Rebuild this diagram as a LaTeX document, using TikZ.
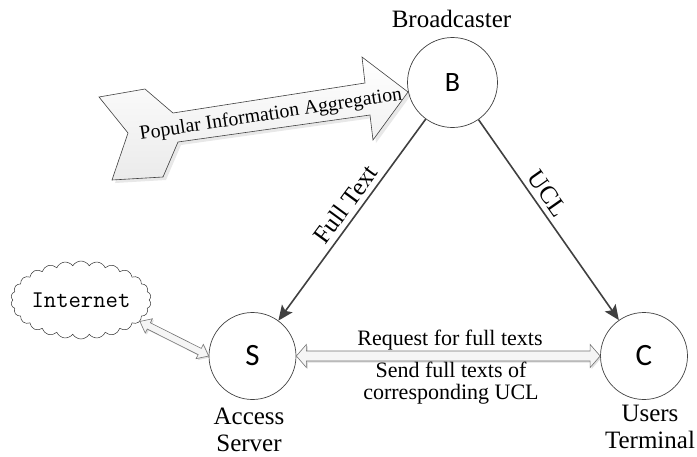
\documentclass[tikz,border=0pt]{standalone}
\usepackage{fontspec}
\setmainfont{Liberation Serif}
\newfontfamily\calfont{Carlito}
\usetikzlibrary{calc,arrows.meta,shapes.symbols,shadows}

\newcommand\hdarrow[6]{% style, a, b, half shaft, half head, head length
  \draw[#1] (#2)
    -- ($ ($(#2)!#6!(#3)$)!#5!90:(#3) $)
    -- ($ ($(#2)!#6!(#3)$)!#4!90:(#3) $)
    -- ($ ($(#3)!#6!(#2)$)!#4!-90:(#2) $)
    -- ($ ($(#3)!#6!(#2)$)!#5!-90:(#2) $)
    -- (#3)
    -- ($ ($(#3)!#6!(#2)$)!#5!90:(#2) $)
    -- ($ ($(#3)!#6!(#2)$)!#4!90:(#2) $)
    -- ($ ($(#2)!#6!(#3)$)!#4!-90:(#3) $)
    -- ($ ($(#2)!#6!(#3)$)!#5!-90:(#3) $)
    -- cycle;}

\begin{document}
\begin{tikzpicture}[x=1pt,y=-1pt,
  circ/.style={circle, draw=black!75, line width=0.7pt, minimum size=87pt, inner sep=0pt,
               font=\calfont\fontsize{31}{31}\selectfont},
  lbl/.style={font=\fontsize{25}{27}\selectfont, align=center, inner sep=0pt},
  conn/.style={draw=black!75, line width=1.6pt, -{Stealth[length=15pt,width=13pt,inset=3pt]}},
  edgelbl/.style={font=\fontsize{25}{25}\selectfont, sloped, above, inner sep=5pt},
  midlbl/.style={font=\fontsize{22}{22}\selectfont, align=center, inner sep=0pt},
  hollow/.style={draw=black!55, line width=0.6pt, fill=black!4,
                 drop shadow={shadow xshift=1.5pt, shadow yshift=-1.5pt, opacity=0.25}},
  bigarrow/.style={draw=black!75, line width=0.6pt, top color=white, bottom color=black!8,
                 drop shadow={shadow xshift=3pt, shadow yshift=-3pt, opacity=0.18}},
]
\useasboundingbox (0,0) rectangle (697,456);

% big arrow
\draw[bigarrow] (99,97) -- (145,89) -- (173,113) -- (365,83) -- (362,57) -- (408,92)
  -- (373,140) -- (370,115) -- (178,142) -- (163,177) -- (112,180) -- (128,133) -- cycle;
\node[font=\fontsize{19.8}{19.8}\selectfont, rotate=8.7, inner sep=0pt] (pia) at (271,115) {Popular Information Aggregation};

% nodes
\node[circ, minimum size=90pt, font=\calfont\fontsize{28}{28}\selectfont] (B) at (452.5,82.5) {B};
\node[circ] (S) at (252.5,356) {S};
\node[circ] (C) at (644,356) {C};
\node[lbl] (bl) at (451.5,18.5) {Broadcaster};
\node[lbl] (sl) at (249,430) {Access\\Server};
\node[lbl] (cl) at (650,427) {Users\\Terminal};

\node[cloud, draw=black!80, line width=0.5pt, cloud puffs=26, cloud puff arc=120, cloud ignores aspect,
      minimum width=124pt, minimum height=78pt, inner sep=0pt,
      font=\ttfamily\fontsize{24}{24}\selectfont] (inet) at (81,300) {Internet};

% connectors
\draw[conn] (B) -- (S) node[edgelbl, pos=0.465] (ft) {Full Text};
\draw[conn] (B) -- (C) node[edgelbl, pos=0.41] (ucl) {UCL};

\coordinate (itip) at (inet.-20);
\hdarrow{hollow}{S.east}{C.west}{5pt}{11.5pt}{10pt}
\hdarrow{hollow}{itip}{S.west}{3.5pt}{8pt}{10pt}

\node[midlbl] (rq) at (450,340) {Request for full texts};
\node[midlbl] (sd) at (451,383.5) {Send full texts of\\corresponding UCL};
\end{tikzpicture}
\end{document}
